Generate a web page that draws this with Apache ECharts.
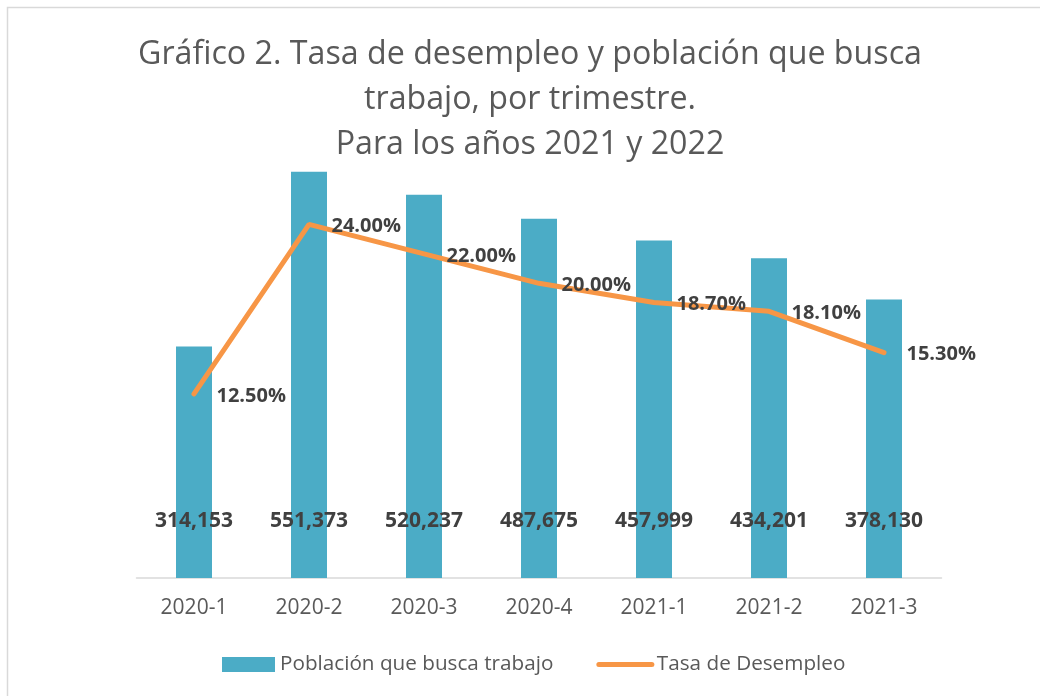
<!DOCTYPE html>
<html>
<head>
<meta charset="utf-8">
<script src="https://cdn.jsdelivr.net/npm/echarts@6/dist/echarts.min.js"></script>
<style>
html, body { margin: 0; padding: 0; background: #fff; }
#chart { width: 1040px; height: 696px; }
</style>
</head>
<body>
<div id="chart"></div>
<script>
// datos
var trimestres = ["2020-1", "2020-2", "2020-3", "2020-4", "2021-1", "2021-2", "2021-3"]
var poblacionBusca = [314153, 551373, 520237, 487675, 457999, 434201, 378130]
var tasaDesempleo = [12.5, 24.0, 22.0, 20.0, 18.7, 18.1, 15.3]

var fuente = "'Open Sans', 'Noto Sans', sans-serif"
var myChart = echarts.init(document.getElementById("chart"))

var option = {
    backgroundColor: "#ffffff",
    animation: false,
    textStyle: { fontFamily: fuente },
    title: {
        text: "Gráfico 2. Tasa de desempleo y población que busca\ntrabajo, por trimestre.\nPara los años 2021 y 2022",
        left: 530,
        top: 32,
        textAlign: "center",
        padding: 0,
        textStyle: {
            fontFamily: fuente,
            fontSize: 32.2,
            fontWeight: "normal",
            color: "#595959",
            lineHeight: 45
        }
    },
    graphic: [
        {
            type: "rect",
            shape: { x: 7.5, y: 7.5, width: 1100, height: 800 },
            style: { fill: "none", stroke: "#d9d9d9", lineWidth: 1.5 },
            silent: true
        }
    ],
    legend: {
        left: 222,
        top: 654,
        padding: 0,
        itemGap: 43,
        itemWidth: 53,
        itemHeight: 15,
        textStyle: { fontFamily: fuente, fontSize: 20.7, color: "#595959" },
        data: [
            { name: "Población que busca trabajo", icon: "rect" },
            {
                name: "Tasa de Desempleo",
                itemStyle: { opacity: 0 },
                lineStyle: { width: 5, cap: "round" }
            }
        ]
    },
    grid: { left: 136.5, right: 98.5, top: 136, bottom: 118 },
    xAxis: {
        type: "category",
        data: trimestres,
        axisLine: { lineStyle: { color: "#d9d9d9", width: 1.5 } },
        axisTick: { show: false },
        axisLabel: { fontFamily: fuente, fontSize: 21, color: "#595959", margin: 20 }
    },
    yAxis: [
        { type: "value", min: 0, max: 600000, show: false, splitLine: { show: false } },
        { type: "value", min: 0, max: 30, show: false, splitLine: { show: false } }
    ],
    series: [
        {
            name: "Población que busca trabajo",
            type: "bar",
            data: poblacionBusca,
            barWidth: 36,
            itemStyle: { color: "#4bacc6" },
            label: {
                show: true,
                position: "insideBottom",
                distance: 46,
                fontFamily: fuente,
                fontSize: 21,
                fontWeight: "bold",
                color: "#404040",
                formatter: function(p) {
                    return p.value.toLocaleString("en-US")
                }
            }
        },
        {
            name: "Tasa de Desempleo",
            type: "line",
            yAxisIndex: 1,
            data: tasaDesempleo,
            symbol: "circle",
            symbolSize: 1,
            itemStyle: { color: "#f79646" },
            lineStyle: { color: "#f79646", width: 5, cap: "round" },
            label: {
                show: true,
                position: "right",
                distance: 22,
                offset: [0, 2],
                fontFamily: fuente,
                fontSize: 20,
                fontWeight: "bold",
                color: "#404040",
                formatter: function(p) {
                    return p.value.toFixed(2) + "%"
                }
            }
        }
    ]
}

myChart.setOption(option)
</script>
</body>
</html>
